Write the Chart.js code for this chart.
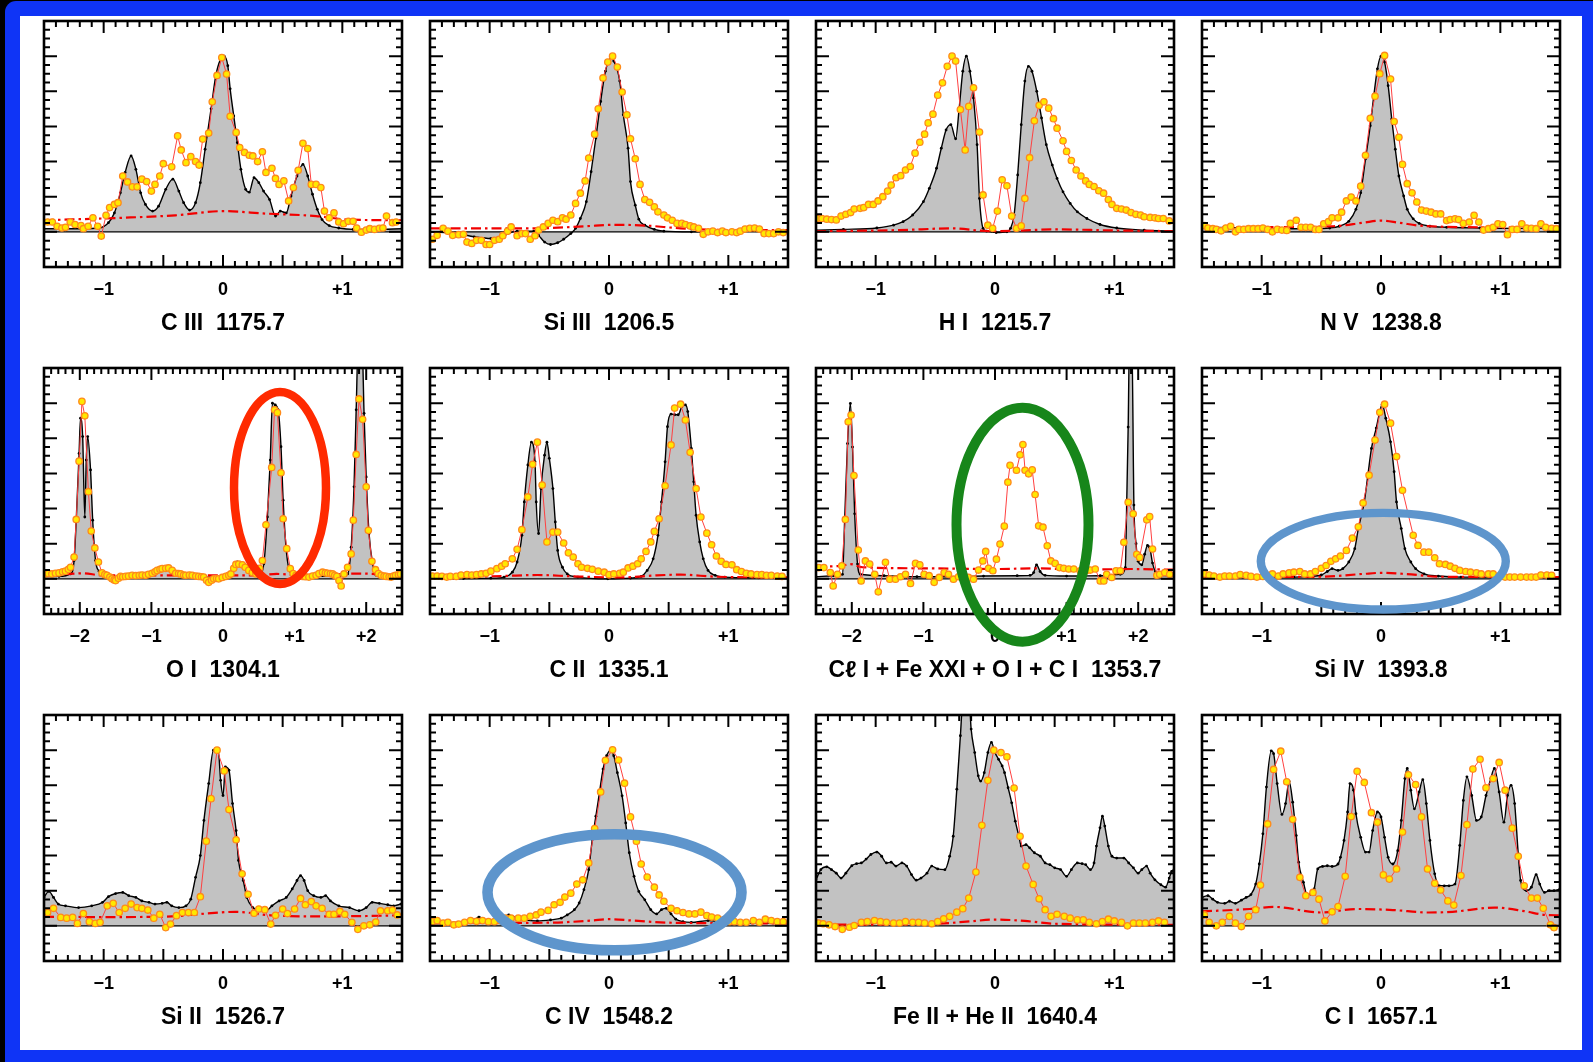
<!DOCTYPE html>
<html><head><meta charset="utf-8">
<script src="https://cdn.jsdelivr.net/npm/chart.js@4.4.1/dist/chart.umd.min.js"></script>
<style>
html,body{margin:0;padding:0;background:#000;width:1593px;height:1062px;overflow:hidden;}
#blue{position:absolute;left:5px;top:1px;width:1588px;height:1061px;background:#0f34f6;border-top-left-radius:11px;}
#white{position:absolute;left:20px;top:16px;width:1562px;height:1034px;background:#fff;}
canvas.panel{position:absolute;}
#marks{position:absolute;left:0;top:0;pointer-events:none;}
</style></head><body>
<div id="blue"></div><div id="white"></div>
<div id="charts"></div>
<svg id="marks" width="1593" height="1062">
  <ellipse cx="280" cy="488" rx="46" ry="96" fill="none" stroke="#ff2a00" stroke-width="8.5"/>
  <ellipse cx="1022.5" cy="524.7" rx="66" ry="117" fill="none" stroke="#17861a" stroke-width="10"/>
  <ellipse cx="1383.3" cy="561.2" rx="122.5" ry="48.3" fill="none" stroke="#5e95cc" stroke-width="8.4"/>
  <ellipse cx="614.5" cy="892.3" rx="127" ry="58" fill="none" stroke="#5e95cc" stroke-width="10.6"/>
</svg>
<script>
// ---------- axis definitions ----------
const RANGE_A = [-1.5, 1.5];
const RANGE_B = [-2.5, 2.5];
const Y_RANGE = [-1, 6];
const TICKS_A = [-1, 0, 1];
const LABELS_A = ['\u22121', '0', '+1'];
const TICKS_B = [-2, -1, 0, 1, 2];
const LABELS_B = ['\u22122', '\u22121', '0', '+1', '+2'];
const TITLES = ['C III  1175.7', 'Si III  1206.5', 'H I  1215.7', 'N V  1238.8',
  'O I  1304.1', 'C II  1335.1', 'C\u2113 I + Fe XXI + O I + C I  1353.7', 'Si IV  1393.8',
  'Si II  1526.7', 'C IV  1548.2', 'Fe II + He II  1640.4', 'C I  1657.1'];

// ---------- data: [x, y] pairs ----------
const CIII_gray = [[-1.50,0.09],[-1.18,0.09],[-1.04,0.11],[-0.96,0.26],[-0.91,0.54],[-0.86,1.11],[-0.82,1.69],[-0.77,2.16],[-0.73,1.78],[-0.69,1.11],[-0.65,0.78],[-0.59,0.59],[-0.54,0.73],[-0.48,1.21],[-0.42,1.50],[-0.37,1.16],[-0.33,0.83],[-0.28,0.62],[-0.23,0.83],[-0.19,1.40],[-0.15,2.35],[-0.10,3.50],[-0.06,4.45],[-0.02,4.92],[0.01,5.00],[0.04,4.73],[0.06,4.07],[0.09,3.30],[0.12,2.54],[0.15,1.78],[0.19,1.21],[0.22,1.13],[0.26,1.54],[0.30,1.40],[0.34,1.16],[0.39,0.92],[0.44,0.45],[0.48,0.59],[0.53,0.54],[0.57,1.02],[0.62,1.59],[0.67,1.92],[0.71,1.59],[0.75,1.07],[0.79,0.64],[0.83,0.35],[0.89,0.18],[0.97,0.11],[1.09,0.07],[1.28,0.07],[1.50,0.09]];
const CIII_orange = [[-1.47,0.28],[-1.43,0.28],[-1.39,0.16],[-1.35,0.11],[-1.32,0.13],[-1.28,0.28],[-1.24,0.21],[-1.19,0.18],[-1.17,0.09],[-1.13,0.16],[-1.09,0.40],[-1.05,0.16],[-1.02,-0.12],[-0.98,0.47],[-0.95,0.69],[-0.91,0.78],[-0.88,0.83],[-0.84,1.59],[-0.80,1.42],[-0.76,1.28],[-0.72,1.28],[-0.68,1.50],[-0.64,1.43],[-0.60,1.16],[-0.57,1.35],[-0.53,1.59],[-0.50,1.94],[-0.43,1.85],[-0.38,2.73],[-0.35,2.33],[-0.31,1.97],[-0.27,2.14],[-0.23,2.00],[-0.20,1.90],[-0.17,2.64],[-0.12,2.81],[-0.09,3.70],[-0.05,4.45],[-0.01,4.96],[0.03,4.49],[0.06,3.29],[0.11,2.83],[0.14,2.40],[0.18,2.26],[0.22,2.18],[0.25,2.16],[0.29,2.00],[0.33,2.28],[0.36,1.69],[0.41,1.81],[0.44,1.52],[0.47,1.35],[0.51,1.45],[0.55,0.88],[0.59,1.26],[0.63,1.75],[0.67,2.52],[0.71,2.37],[0.74,1.35],[0.78,1.35],[0.82,1.26],[0.85,0.59],[0.89,0.40],[0.93,0.54],[0.97,0.28],[1.01,0.23],[1.05,0.30],[1.09,0.30],[1.12,0.11],[1.16,-0.01],[1.20,0.05],[1.23,0.09],[1.27,0.07],[1.31,0.10],[1.34,0.11],[1.37,0.45],[1.42,0.26],[1.45,0.28]];
const CIII_base = [[-1.50,0.33],[-0.85,0.40],[-0.40,0.47],[0.00,0.59],[0.36,0.52],[0.78,0.45],[1.05,0.35],[1.50,0.33]];

const SiIII_gray = [[-1.50,0.00],[-1.27,-0.05],[-1.13,-0.14],[-0.99,-0.19],[-0.88,-0.10],[-0.77,0.02],[-0.63,0.02],[-0.59,-0.10],[-0.54,-0.29],[-0.49,-0.36],[-0.43,-0.31],[-0.38,-0.21],[-0.32,-0.05],[-0.28,0.10],[-0.24,0.38],[-0.19,0.86],[-0.15,1.71],[-0.11,2.67],[-0.07,3.71],[-0.03,4.57],[0.02,4.97],[0.04,4.86],[0.09,4.29],[0.12,3.33],[0.16,2.38],[0.18,1.43],[0.22,0.76],[0.25,0.36],[0.30,0.19],[0.38,0.07],[0.46,0.02],[0.69,0.00],[0.97,0.02],[1.50,0.00]];
const SiIII_orange = [[-1.48,-0.21],[-1.44,-0.10],[-1.39,0.10],[-1.35,0.02],[-1.31,-0.10],[-1.26,-0.08],[-1.22,-0.07],[-1.19,-0.29],[-1.15,-0.33],[-1.11,-0.24],[-1.07,-0.24],[-1.03,-0.36],[-1.00,-0.36],[-0.96,-0.24],[-0.92,-0.21],[-0.89,-0.11],[-0.85,0.02],[-0.82,0.14],[-0.77,-0.11],[-0.73,-0.05],[-0.70,-0.05],[-0.66,-0.21],[-0.62,-0.11],[-0.59,0.05],[-0.55,0.14],[-0.51,0.24],[-0.47,0.33],[-0.43,0.29],[-0.39,0.40],[-0.36,0.36],[-0.32,0.48],[-0.28,0.81],[-0.24,1.10],[-0.20,1.45],[-0.17,2.10],[-0.12,2.78],[-0.09,3.50],[-0.05,4.38],[-0.01,4.83],[0.03,5.00],[0.07,4.69],[0.11,3.98],[0.15,3.33],[0.18,2.65],[0.22,2.08],[0.26,1.35],[0.30,0.92],[0.34,0.84],[0.38,0.71],[0.41,0.57],[0.46,0.48],[0.49,0.40],[0.53,0.33],[0.57,0.24],[0.61,0.24],[0.64,0.21],[0.68,0.17],[0.71,0.14],[0.75,0.10],[0.79,-0.07],[0.83,0.00],[0.87,0.02],[0.91,-0.02],[0.95,0.02],[0.98,-0.02],[1.03,0.00],[1.07,-0.02],[1.10,0.02],[1.14,0.08],[1.18,0.10],[1.22,0.11],[1.26,0.08],[1.30,-0.05],[1.34,-0.05],[1.38,-0.05],[1.42,0.00],[1.46,-0.02]];
const SiIII_base = [[-1.50,0.10],[-0.60,0.10],[-0.20,0.16],[0.05,0.20],[0.30,0.18],[0.60,0.10],[1.00,0.05],[1.50,0.05]];

const HI_gray = [[-1.50,0.05],[-1.27,0.07],[-0.99,0.11],[-0.85,0.19],[-0.77,0.29],[-0.69,0.48],[-0.60,0.86],[-0.55,1.24],[-0.49,1.81],[-0.45,2.38],[-0.41,2.90],[-0.37,3.05],[-0.33,2.65],[-0.30,3.52],[-0.27,4.57],[-0.24,5.00],[-0.21,4.57],[-0.18,3.81],[-0.15,2.48],[-0.13,0.95],[-0.10,0.10],[-0.07,0.02],[0.01,-0.02],[0.10,0.00],[0.13,0.10],[0.16,0.48],[0.19,1.62],[0.22,3.05],[0.25,4.29],[0.28,4.71],[0.31,4.57],[0.35,4.00],[0.39,3.24],[0.43,2.48],[0.48,1.90],[0.52,1.52],[0.57,1.14],[0.63,0.81],[0.69,0.57],[0.77,0.38],[0.88,0.21],[1.02,0.11],[1.25,0.05],[1.50,0.02]];
const HI_orange = [[-1.49,0.38],[-1.45,0.38],[-1.41,0.36],[-1.37,0.35],[-1.33,0.34],[-1.29,0.45],[-1.25,0.50],[-1.21,0.55],[-1.18,0.65],[-1.13,0.67],[-1.10,0.69],[-1.06,0.78],[-1.02,0.78],[-0.98,0.88],[-0.94,1.00],[-0.90,1.16],[-0.87,1.33],[-0.83,1.54],[-0.79,1.60],[-0.75,1.76],[-0.71,1.86],[-0.67,2.24],[-0.63,2.55],[-0.59,2.78],[-0.56,3.10],[-0.52,3.35],[-0.48,3.89],[-0.44,4.24],[-0.40,4.71],[-0.36,5.00],[-0.33,4.86],[-0.29,3.48],[-0.25,2.33],[-0.22,3.57],[-0.18,4.10],[-0.13,2.84],[-0.10,1.05],[-0.06,0.19],[-0.02,0.10],[0.02,0.59],[0.06,1.48],[0.10,1.31],[0.14,0.45],[0.18,0.10],[0.22,0.17],[0.25,0.95],[0.29,2.11],[0.33,3.16],[0.37,3.60],[0.41,3.70],[0.45,3.52],[0.49,3.22],[0.52,2.95],[0.57,2.59],[0.60,2.29],[0.64,2.03],[0.68,1.76],[0.72,1.59],[0.76,1.45],[0.79,1.35],[0.83,1.29],[0.87,1.17],[0.91,1.10],[0.95,0.92],[0.98,0.78],[1.02,0.67],[1.06,0.65],[1.10,0.62],[1.14,0.55],[1.18,0.50],[1.22,0.48],[1.25,0.43],[1.30,0.41],[1.34,0.40],[1.37,0.38],[1.41,0.38],[1.46,0.31]];
const HI_base = [[-1.50,0.02],[-0.80,0.05],[-0.35,0.10],[-0.05,0.02],[0.15,0.03],[0.50,0.07],[1.00,0.04],[1.50,0.02]];

const NV_gray = [[-1.50,0.13],[-1.13,0.11],[-0.85,0.09],[-0.57,0.09],[-0.43,0.11],[-0.35,0.16],[-0.27,0.30],[-0.21,0.64],[-0.17,1.11],[-0.13,2.07],[-0.09,3.02],[-0.06,3.88],[-0.03,4.64],[0.00,5.00],[0.03,4.83],[0.06,4.16],[0.09,3.21],[0.12,2.35],[0.15,1.59],[0.19,1.02],[0.22,0.64],[0.27,0.37],[0.32,0.24],[0.41,0.16],[0.55,0.13],[0.83,0.11],[1.10,0.10],[1.50,0.11]];
const NV_orange = [[-1.48,0.18],[-1.45,0.11],[-1.41,0.09],[-1.38,0.07],[-1.34,0.03],[-1.30,0.11],[-1.26,0.16],[-1.22,0.00],[-1.19,0.07],[-1.15,0.07],[-1.11,0.09],[-1.07,0.09],[-1.03,0.09],[-0.99,0.11],[-0.95,0.07],[-0.91,0.00],[-0.87,0.07],[-0.83,0.05],[-0.79,0.04],[-0.76,0.24],[-0.71,0.33],[-0.67,0.13],[-0.63,0.13],[-0.59,0.13],[-0.55,0.07],[-0.52,0.07],[-0.48,0.23],[-0.44,0.29],[-0.41,0.40],[-0.36,0.40],[-0.33,0.56],[-0.29,0.88],[-0.25,0.99],[-0.21,0.88],[-0.17,1.30],[-0.13,2.18],[-0.09,3.23],[-0.05,3.86],[-0.01,4.50],[0.03,5.02],[0.08,4.35],[0.11,3.14],[0.15,2.69],[0.18,1.92],[0.22,1.37],[0.26,1.11],[0.30,0.85],[0.34,0.62],[0.38,0.59],[0.42,0.56],[0.46,0.51],[0.50,0.51],[0.55,0.32],[0.58,0.35],[0.62,0.37],[0.65,0.35],[0.69,0.24],[0.74,0.28],[0.78,0.47],[0.82,0.28],[0.86,0.05],[0.90,0.09],[0.94,0.13],[0.98,0.23],[1.02,0.21],[1.06,-0.08],[1.10,0.07],[1.14,0.07],[1.18,0.23],[1.22,0.11],[1.26,0.10],[1.30,0.09],[1.34,0.23],[1.38,0.13],[1.43,0.10],[1.47,0.09]];
const NV_base = [[-1.50,0.13],[-0.40,0.16],[-0.15,0.26],[0.00,0.32],[0.15,0.26],[0.35,0.17],[1.00,0.13],[1.50,0.13]];

const OI_gray = [[-2.50,0.07],[-2.29,0.07],[-2.13,0.14],[-2.08,0.52],[-2.05,1.67],[-2.01,3.57],[-1.99,4.57],[-1.96,4.05],[-1.93,1.76],[-1.91,3.38],[-1.89,4.05],[-1.85,3.10],[-1.82,1.67],[-1.78,0.52],[-1.73,0.22],[-1.64,0.07],[-1.36,0.07],[-1.08,0.10],[-0.90,0.24],[-0.76,0.29],[-0.62,0.14],[-0.34,0.05],[-0.06,0.05],[0.13,0.24],[0.20,0.48],[0.29,0.43],[0.39,0.14],[0.50,0.10],[0.57,0.43],[0.62,1.76],[0.66,3.38],[0.69,5.00],[0.73,4.95],[0.77,4.81],[0.81,3.76],[0.84,2.24],[0.88,0.90],[0.92,0.29],[0.99,0.10],[1.30,0.07],[1.58,0.07],[1.74,0.14],[1.79,0.90],[1.83,2.62],[1.86,4.81],[1.89,6.80],[1.94,6.80],[1.97,4.71],[2.00,2.90],[2.04,1.29],[2.09,0.43],[2.14,0.10],[2.32,0.07],[2.50,0.10]];
const OI_orange = [[-2.48,0.14],[-2.44,0.15],[-2.39,0.14],[-2.34,0.16],[-2.29,0.17],[-2.24,0.20],[-2.20,0.22],[-2.16,0.27],[-2.13,0.33],[-2.08,0.62],[-2.05,1.69],[-2.01,3.35],[-1.97,5.05],[-1.93,4.64],[-1.88,2.48],[-1.84,1.36],[-1.79,0.88],[-1.74,0.48],[-1.69,0.17],[-1.65,0.12],[-1.62,0.10],[-1.58,0.05],[-1.55,0.00],[-1.52,-0.03],[-1.50,-0.05],[-1.46,0.02],[-1.43,0.07],[-1.40,0.06],[-1.36,0.07],[-1.32,0.08],[-1.27,0.10],[-1.22,0.09],[-1.17,0.10],[-1.13,0.11],[-1.08,0.10],[-1.04,0.13],[-0.99,0.16],[-0.95,0.20],[-0.92,0.24],[-0.88,0.27],[-0.85,0.29],[-0.80,0.30],[-0.76,0.31],[-0.71,0.24],[-0.66,0.16],[-0.62,0.15],[-0.59,0.14],[-0.55,0.11],[-0.52,0.10],[-0.47,0.11],[-0.43,0.10],[-0.38,0.08],[-0.34,0.07],[-0.30,0.06],[-0.27,0.05],[-0.23,-0.04],[-0.20,-0.10],[-0.16,-0.04],[-0.13,0.00],[-0.09,0.01],[-0.06,0.00],[-0.01,0.04],[0.04,0.07],[0.08,0.10],[0.11,0.14],[0.15,0.30],[0.18,0.41],[0.22,0.42],[0.27,0.40],[0.31,0.33],[0.36,0.24],[0.41,0.18],[0.46,0.14],[0.51,0.30],[0.55,0.52],[0.60,1.54],[0.68,3.17],[0.72,4.81],[0.76,4.73],[0.81,3.02],[0.84,1.71],[0.89,0.86],[0.94,0.29],[0.98,0.15],[1.02,0.10],[1.06,0.08],[1.11,0.07],[1.15,0.06],[1.20,0.05],[1.25,0.08],[1.30,0.10],[1.34,0.15],[1.39,0.19],[1.43,0.17],[1.46,0.16],[1.50,0.15],[1.53,0.14],[1.56,0.10],[1.59,0.07],[1.62,-0.05],[1.65,-0.20],[1.69,0.14],[1.74,0.33],[1.79,0.71],[1.82,1.67],[1.86,3.54],[1.90,5.12],[1.95,4.54],[2.00,2.62],[2.03,1.38],[2.08,0.50],[2.13,0.26],[2.17,0.15],[2.21,0.10],[2.25,0.08],[2.28,0.07],[2.32,0.06],[2.35,0.05],[2.38,0.08],[2.41,0.10],[2.45,0.12],[2.48,0.14]];
const OI_base = [[-2.50,0.10],[-2.05,0.15],[-1.95,0.16],[-1.70,0.10],[-0.50,0.10],[0.50,0.10],[0.75,0.14],[1.10,0.10],[1.90,0.15],[2.50,0.10]];

const CII_gray = [[-1.50,0.00],[-1.22,0.01],[-0.99,0.02],[-0.88,0.05],[-0.81,0.19],[-0.77,0.48],[-0.73,1.24],[-0.71,2.19],[-0.68,3.24],[-0.65,3.89],[-0.62,3.33],[-0.61,2.19],[-0.59,1.29],[-0.57,2.57],[-0.54,3.52],[-0.52,3.89],[-0.50,3.43],[-0.47,2.57],[-0.45,1.62],[-0.43,0.81],[-0.39,0.33],[-0.35,0.14],[-0.26,0.05],[-0.01,0.00],[0.18,0.02],[0.27,0.07],[0.32,0.24],[0.37,0.57],[0.41,1.24],[0.44,2.19],[0.47,3.33],[0.49,4.33],[0.52,4.69],[0.55,4.67],[0.58,4.67],[0.61,4.90],[0.64,4.95],[0.66,4.76],[0.69,3.71],[0.71,2.76],[0.73,1.81],[0.76,1.05],[0.79,0.57],[0.83,0.24],[0.89,0.10],[0.97,0.05],[1.25,0.03],[1.50,0.02]];
const CII_orange = [[-1.48,0.08],[-1.44,0.08],[-1.40,0.07],[-1.36,0.05],[-1.33,0.07],[-1.28,0.07],[-1.24,0.11],[-1.19,0.12],[-1.15,0.11],[-1.11,0.12],[-1.07,0.14],[-1.03,0.16],[-0.99,0.22],[-0.94,0.29],[-0.90,0.36],[-0.87,0.43],[-0.81,0.57],[-0.77,0.84],[-0.73,1.40],[-0.68,2.33],[-0.64,3.26],[-0.60,3.89],[-0.56,2.67],[-0.52,1.05],[-0.47,1.33],[-0.43,1.33],[-0.38,1.02],[-0.34,0.74],[-0.30,0.62],[-0.26,0.43],[-0.23,0.33],[-0.18,0.30],[-0.14,0.27],[-0.09,0.22],[-0.04,0.19],[0.00,0.12],[0.04,0.14],[0.09,0.16],[0.12,0.19],[0.16,0.31],[0.20,0.36],[0.24,0.43],[0.27,0.57],[0.31,0.78],[0.35,1.05],[0.38,1.35],[0.42,1.71],[0.47,2.65],[0.52,3.81],[0.55,4.86],[0.60,4.97],[0.64,4.52],[0.68,3.60],[0.73,2.57],[0.77,1.76],[0.82,1.30],[0.86,0.97],[0.90,0.65],[0.94,0.50],[0.98,0.41],[1.03,0.40],[1.07,0.26],[1.11,0.21],[1.15,0.16],[1.19,0.14],[1.24,0.12],[1.28,0.12],[1.32,0.10],[1.36,0.10],[1.41,0.08],[1.45,0.07]];
const CII_base = [[-1.50,0.05],[-0.90,0.08],[-0.60,0.11],[-0.30,0.07],[0.10,0.04],[0.40,0.10],[0.60,0.12],[0.90,0.06],[1.50,0.04]];

const ClI_gray = [[-2.50,0.06],[-2.25,0.09],[-2.13,0.13],[-2.10,1.66],[-2.06,3.85],[-2.02,4.99],[-1.99,3.75],[-1.96,1.85],[-1.92,0.42],[-1.88,0.13],[-1.55,0.09],[-1.09,0.06],[-0.62,0.06],[-0.16,0.08],[0.31,0.09],[0.49,0.10],[0.54,0.18],[0.58,0.40],[0.63,0.21],[0.70,0.10],[1.00,0.08],[1.47,0.09],[1.75,0.13],[1.82,0.32],[1.84,2.23],[1.86,4.32],[1.88,7.00],[1.91,7.00],[1.94,2.10],[1.97,1.00],[2.00,0.50],[2.05,0.40],[2.09,0.70],[2.13,0.95],[2.16,0.90],[2.20,0.45],[2.24,0.20],[2.30,0.10],[2.50,0.09]];
const ClI_orange = [[-2.46,0.32],[-2.39,0.32],[-2.30,0.18],[-2.26,-0.20],[-2.20,0.13],[-2.14,0.37],[-2.09,1.69],[-2.05,4.47],[-2.01,4.66],[-1.97,2.94],[-1.91,0.82],[-1.87,-0.06],[-1.81,0.51],[-1.75,0.42],[-1.68,0.13],[-1.63,-0.37],[-1.53,0.47],[-1.47,-0.01],[-1.39,-0.01],[-1.32,0.06],[-1.25,0.13],[-1.18,-0.13],[-1.11,0.44],[-1.05,0.40],[-0.99,0.13],[-0.92,0.09],[-0.85,-0.10],[-0.78,0.04],[-0.71,0.18],[-0.65,0.13],[-0.58,-0.01],[-0.51,0.06],[-0.44,0.13],[-0.37,0.04],[-0.30,-0.01],[-0.23,0.25],[-0.17,0.51],[-0.13,0.78],[-0.09,0.30],[-0.03,0.23],[0.02,0.56],[0.07,0.99],[0.13,1.50],[0.18,2.75],[0.21,3.23],[0.30,3.09],[0.35,3.53],[0.39,3.82],[0.42,3.09],[0.47,2.99],[0.52,3.10],[0.56,2.40],[0.61,1.51],[0.67,1.47],[0.73,0.94],[0.78,0.51],[0.84,0.44],[0.90,0.32],[0.96,0.30],[1.03,0.28],[1.10,0.28],[1.19,0.23],[1.27,0.23],[1.33,0.25],[1.40,0.28],[1.47,-0.06],[1.52,-0.06],[1.56,0.13],[1.63,0.04],[1.69,0.23],[1.75,0.23],[1.80,1.04],[1.86,2.18],[1.93,1.85],[1.98,0.70],[2.02,0.61],[2.12,1.68],[2.16,1.77],[2.20,0.85],[2.26,0.10],[2.30,0.13],[2.37,0.18],[2.44,0.13]];
const ClI_base = [[-2.50,0.35],[-2.15,0.37],[-2.02,0.42],[-1.85,0.33],[-1.00,0.30],[0.00,0.28],[0.60,0.30],[1.20,0.26],[1.90,0.28],[2.50,0.26]];

const SiIV_gray = [[-1.50,0.05],[-1.15,0.05],[-0.73,0.05],[-0.59,0.07],[-0.50,0.11],[-0.45,0.21],[-0.41,0.29],[-0.36,0.24],[-0.32,0.29],[-0.27,0.48],[-0.22,0.86],[-0.19,1.43],[-0.14,2.19],[-0.11,2.95],[-0.08,3.71],[-0.04,4.29],[-0.01,4.76],[0.01,4.97],[0.04,4.57],[0.08,3.90],[0.11,3.05],[0.13,2.19],[0.17,1.43],[0.20,0.86],[0.25,0.48],[0.29,0.29],[0.36,0.14],[0.48,0.08],[0.67,0.05],[1.09,0.05],[1.50,0.05]];
const SiIV_orange = [[-1.48,0.14],[-1.44,0.11],[-1.40,0.08],[-1.35,0.05],[-1.31,0.08],[-1.27,0.08],[-1.22,0.08],[-1.18,0.12],[-1.13,0.10],[-1.09,0.07],[-1.04,0.05],[-0.99,0.07],[-0.95,0.10],[-0.91,0.14],[-0.86,0.08],[-0.82,0.14],[-0.77,0.17],[-0.73,0.19],[-0.68,0.21],[-0.64,0.14],[-0.59,0.14],[-0.55,0.21],[-0.50,0.30],[-0.46,0.38],[-0.42,0.50],[-0.38,0.57],[-0.34,0.65],[-0.29,0.81],[-0.24,1.16],[-0.19,1.48],[-0.15,2.16],[-0.10,2.95],[-0.05,3.95],[-0.01,4.74],[0.03,4.97],[0.08,4.43],[0.13,3.48],[0.18,2.52],[0.27,1.24],[0.31,0.95],[0.36,0.76],[0.40,0.76],[0.45,0.60],[0.49,0.43],[0.54,0.41],[0.58,0.36],[0.62,0.30],[0.66,0.24],[0.71,0.21],[0.75,0.19],[0.80,0.17],[0.84,0.14],[0.90,0.14],[0.94,0.14],[0.99,0.08],[1.04,0.05],[1.08,0.05],[1.12,0.05],[1.17,0.05],[1.22,0.05],[1.26,0.05],[1.30,0.05],[1.34,0.11],[1.39,0.11],[1.43,0.10]];
const SiIV_base = [[-1.50,0.05],[-0.50,0.06],[-0.15,0.14],[0.00,0.17],[0.20,0.14],[0.50,0.06],[1.50,0.05]];

const SiII_gray = [[-1.50,0.81],[-1.46,0.98],[-1.42,0.81],[-1.38,0.62],[-1.32,0.57],[-1.21,0.52],[-1.10,0.57],[-1.01,0.67],[-0.96,0.83],[-0.90,0.92],[-0.84,0.95],[-0.79,0.86],[-0.73,0.81],[-0.68,0.71],[-0.62,0.67],[-0.57,0.62],[-0.51,0.64],[-0.47,0.67],[-0.43,0.57],[-0.37,0.52],[-0.31,0.57],[-0.27,0.76],[-0.23,1.38],[-0.19,2.00],[-0.16,3.00],[-0.12,4.05],[-0.08,5.00],[-0.04,5.00],[-0.02,4.14],[0.00,3.71],[0.02,4.52],[0.05,4.43],[0.08,3.48],[0.11,2.71],[0.13,1.86],[0.17,1.29],[0.20,0.81],[0.25,0.52],[0.30,0.43],[0.36,0.43],[0.41,0.57],[0.47,0.71],[0.53,0.81],[0.58,1.05],[0.62,1.29],[0.65,1.43],[0.68,1.29],[0.71,1.00],[0.76,0.86],[0.82,0.81],[0.86,0.86],[0.90,0.71],[0.97,0.57],[1.06,0.52],[1.14,0.43],[1.20,0.52],[1.25,0.67],[1.31,0.64],[1.38,0.60],[1.43,0.57],[1.49,0.62]];
const SiII_orange = [[-1.47,0.38],[-1.42,0.50],[-1.36,0.24],[-1.31,0.22],[-1.26,0.24],[-1.22,0.07],[-1.17,0.35],[-1.12,0.12],[-1.07,0.07],[-1.03,0.10],[-0.97,0.57],[-0.92,0.64],[-0.87,0.38],[-0.82,0.50],[-0.77,0.62],[-0.72,0.52],[-0.68,0.50],[-0.63,0.45],[-0.58,0.22],[-0.53,0.33],[-0.48,-0.05],[-0.44,0.05],[-0.39,0.29],[-0.34,0.38],[-0.29,0.38],[-0.24,0.38],[-0.19,0.83],[-0.14,2.41],[-0.10,3.62],[-0.05,5.00],[0.01,4.41],[0.05,3.31],[0.11,2.45],[0.16,1.48],[0.21,0.90],[0.26,0.36],[0.30,0.48],[0.35,0.46],[0.40,0.05],[0.44,0.30],[0.50,0.48],[0.54,0.35],[0.60,0.48],[0.65,0.78],[0.69,0.60],[0.74,0.69],[0.78,0.57],[0.83,0.50],[0.89,0.33],[0.93,0.33],[0.98,0.41],[1.02,0.33],[1.08,0.10],[1.13,-0.10],[1.18,0.00],[1.23,0.03],[1.28,0.11],[1.32,0.43],[1.38,0.43],[1.42,0.45],[1.46,0.31]];
const SiII_base = [[-1.50,0.26],[-1.00,0.25],[-0.50,0.26],[-0.10,0.36],[0.10,0.40],[0.40,0.30],[0.80,0.27],[1.20,0.28],[1.50,0.30]];

const CIV_gray = [[-1.50,0.10],[-1.27,0.10],[-1.13,0.17],[-1.09,0.25],[-1.05,0.19],[-0.99,0.15],[-0.91,0.22],[-0.84,0.31],[-0.80,0.25],[-0.71,0.17],[-0.60,0.14],[-0.49,0.17],[-0.40,0.22],[-0.35,0.31],[-0.29,0.46],[-0.25,0.65],[-0.21,1.03],[-0.17,1.60],[-0.14,2.46],[-0.11,3.12],[-0.08,3.79],[-0.05,4.46],[-0.02,4.84],[0.01,4.98],[0.04,4.84],[0.07,4.36],[0.11,3.70],[0.14,2.93],[0.17,2.08],[0.21,1.41],[0.25,0.98],[0.30,0.74],[0.35,0.46],[0.40,0.34],[0.44,0.46],[0.48,0.50],[0.52,0.34],[0.56,0.19],[0.62,0.12],[0.69,0.10],[0.83,0.15],[0.97,0.10],[1.25,0.08],[1.50,0.08]];
const CIV_orange = [[-1.48,0.12],[-1.44,0.15],[-1.39,0.08],[-1.35,0.10],[-1.30,0.03],[-1.26,0.05],[-1.21,0.10],[-1.16,0.15],[-1.11,0.13],[-1.06,0.15],[-1.01,0.12],[-0.96,0.12],[-0.91,0.15],[-0.87,0.22],[-0.82,0.22],[-0.76,0.22],[-0.71,0.22],[-0.66,0.27],[-0.61,0.31],[-0.57,0.39],[-0.51,0.44],[-0.46,0.60],[-0.41,0.67],[-0.37,0.82],[-0.32,0.93],[-0.27,1.19],[-0.22,1.31],[-0.17,1.79],[-0.12,2.77],[-0.07,3.81],[-0.03,4.71],[0.03,5.01],[0.08,4.72],[0.13,4.06],[0.18,3.10],[0.23,2.41],[0.27,1.76],[0.32,1.39],[0.38,1.10],[0.42,0.88],[0.46,0.70],[0.52,0.50],[0.57,0.43],[0.62,0.38],[0.67,0.34],[0.72,0.34],[0.77,0.39],[0.82,0.29],[0.86,0.25],[0.91,0.22],[0.96,0.17],[1.01,0.12],[1.05,0.12],[1.10,0.10],[1.15,0.10],[1.21,0.15],[1.26,0.10],[1.31,0.19],[1.36,0.15],[1.41,0.12],[1.46,0.12]];
const CIV_base = [[-1.50,0.08],[-0.50,0.09],[-0.15,0.15],[0.00,0.19],[0.20,0.15],[0.50,0.09],[1.50,0.07]];

const FeII_gray = [[-1.50,1.31],[-1.46,1.60],[-1.41,1.68],[-1.37,1.60],[-1.33,1.50],[-1.29,1.36],[-1.25,1.50],[-1.20,1.71],[-1.16,1.77],[-1.12,1.79],[-1.08,1.90],[-1.04,2.03],[-0.99,2.10],[-0.95,1.98],[-0.91,1.79],[-0.87,1.81],[-0.83,1.70],[-0.78,1.79],[-0.74,1.70],[-0.70,1.46],[-0.66,1.30],[-0.62,1.36],[-0.57,1.50],[-0.53,1.70],[-0.48,1.62],[-0.42,1.60],[-0.38,1.98],[-0.35,2.55],[-0.32,3.89],[-0.29,5.41],[-0.27,6.40],[-0.22,6.60],[-0.20,5.60],[-0.17,4.93],[-0.14,4.27],[-0.12,4.12],[-0.09,4.36],[-0.06,4.93],[-0.03,5.22],[0.00,4.93],[0.03,4.74],[0.06,4.55],[0.08,4.36],[0.11,3.93],[0.14,3.50],[0.17,2.98],[0.20,2.55],[0.22,2.27],[0.26,2.31],[0.29,2.22],[0.33,2.08],[0.38,1.98],[0.42,1.79],[0.46,1.74],[0.50,1.65],[0.55,1.60],[0.60,1.41],[0.64,1.60],[0.69,1.79],[0.73,1.77],[0.76,1.74],[0.80,1.60],[0.83,1.79],[0.85,2.27],[0.88,2.79],[0.90,3.12],[0.92,2.84],[0.95,2.27],[0.98,1.98],[1.02,1.93],[1.08,1.93],[1.12,1.79],[1.16,1.65],[1.20,1.50],[1.23,1.60],[1.27,1.70],[1.30,1.50],[1.34,1.31],[1.39,1.17],[1.43,1.10],[1.46,1.36],[1.48,1.55],[1.50,1.60]];
const FeII_orange = [[-1.48,0.08],[-1.44,0.06],[-1.39,0.03],[-1.34,-0.02],[-1.28,-0.10],[-1.22,-0.04],[-1.18,0.01],[-1.12,0.10],[-1.07,0.12],[-1.01,0.15],[-0.96,0.12],[-0.91,0.10],[-0.85,0.08],[-0.80,0.08],[-0.75,0.12],[-0.69,0.10],[-0.64,0.10],[-0.59,0.08],[-0.53,0.06],[-0.48,0.12],[-0.43,0.20],[-0.38,0.27],[-0.32,0.39],[-0.27,0.49],[-0.22,0.79],[-0.16,1.53],[-0.11,2.86],[-0.06,4.14],[-0.01,5.00],[0.05,4.93],[0.10,4.81],[0.16,3.92],[0.21,2.55],[0.26,1.70],[0.32,1.18],[0.37,0.77],[0.42,0.46],[0.47,0.27],[0.52,0.33],[0.58,0.27],[0.63,0.22],[0.69,0.17],[0.74,0.17],[0.79,0.10],[0.85,0.06],[0.90,0.12],[0.95,0.19],[1.00,0.14],[1.06,0.10],[1.11,0.00],[1.16,0.08],[1.21,0.08],[1.26,0.08],[1.32,0.10],[1.37,0.14],[1.42,0.10]];
const FeII_base = [[-1.50,0.03],[-0.50,0.06],[-0.20,0.13],[0.00,0.18],[0.25,0.14],[0.50,0.06],[1.50,0.03]];

const CI_gray = [[-1.50,0.81],[-1.45,0.86],[-1.41,0.76],[-1.37,0.67],[-1.31,0.64],[-1.27,0.70],[-1.22,0.64],[-1.17,0.73],[-1.13,0.81],[-1.09,0.89],[-1.05,1.19],[-1.02,1.76],[-0.99,2.62],[-0.96,3.95],[-0.92,4.98],[-0.90,4.90],[-0.87,4.05],[-0.83,3.17],[-0.80,3.48],[-0.77,4.11],[-0.74,3.52],[-0.71,2.57],[-0.69,1.81],[-0.65,1.24],[-0.62,0.90],[-0.59,0.90],[-0.56,1.05],[-0.53,1.62],[-0.49,1.69],[-0.45,1.71],[-0.41,1.69],[-0.36,1.76],[-0.34,1.95],[-0.31,2.43],[-0.28,3.24],[-0.26,4.05],[-0.23,3.86],[-0.21,3.19],[-0.17,2.52],[-0.13,2.10],[-0.10,2.10],[-0.07,2.71],[-0.03,3.24],[0.00,3.10],[0.03,2.52],[0.06,1.95],[0.10,1.76],[0.14,2.14],[0.17,3.00],[0.20,4.19],[0.22,4.48],[0.25,3.86],[0.28,3.33],[0.32,3.81],[0.35,4.16],[0.38,3.48],[0.41,2.43],[0.45,1.48],[0.49,1.14],[0.53,1.14],[0.57,1.14],[0.62,1.19],[0.66,2.29],[0.69,3.57],[0.72,4.24],[0.76,3.71],[0.80,3.00],[0.84,3.10],[0.88,3.71],[0.92,4.19],[0.95,4.48],[0.99,3.81],[1.03,2.95],[1.06,3.71],[1.09,4.00],[1.12,3.48],[1.15,2.05],[1.17,1.29],[1.22,1.00],[1.26,1.10],[1.30,1.46],[1.33,1.19],[1.37,0.95],[1.41,1.00],[1.45,1.00],[1.50,1.05]];
const CI_orange = [[-1.48,0.31],[-1.44,0.10],[-1.38,0.00],[-1.33,0.10],[-1.27,0.27],[-1.22,0.08],[-1.17,-0.02],[-1.11,0.27],[-1.05,0.46],[-1.01,1.16],[-0.95,2.90],[-0.90,4.45],[-0.84,4.97],[-0.79,4.10],[-0.74,3.03],[-0.68,1.38],[-0.63,0.86],[-0.57,0.95],[-0.52,0.76],[-0.47,0.14],[-0.41,0.40],[-0.36,0.55],[-0.30,1.41],[-0.25,3.11],[-0.20,4.40],[-0.14,4.08],[-0.08,3.22],[-0.03,2.95],[0.02,1.45],[0.07,1.33],[0.13,1.62],[0.18,2.67],[0.23,4.30],[0.29,4.02],[0.34,3.10],[0.39,1.62],[0.45,1.21],[0.50,1.02],[0.56,0.71],[0.61,0.59],[0.67,1.43],[0.72,2.88],[0.77,4.46],[0.83,4.74],[0.88,3.93],[0.94,4.19],[0.99,4.65],[1.04,3.86],[1.10,2.78],[1.15,1.98],[1.20,1.14],[1.26,0.79],[1.31,0.79],[1.36,0.50],[1.42,0.03],[1.45,-0.05]];
const CI_base = [[-1.50,0.41],[-1.10,0.48],[-0.90,0.54],[-0.50,0.38],[-0.20,0.48],[0.10,0.45],[0.40,0.38],[0.60,0.40],[0.95,0.52],[1.20,0.42],[1.38,0.31],[1.50,0.30]];

// ---------- panels (row-major) ----------
const PANELS = [
  {gray: CIII_gray, orange: CIII_orange, base: CIII_base, wide: false},
  {gray: SiIII_gray, orange: SiIII_orange, base: SiIII_base, wide: false},
  {gray: HI_gray, orange: HI_orange, base: HI_base, wide: false},
  {gray: NV_gray, orange: NV_orange, base: NV_base, wide: false},
  {gray: OI_gray, orange: OI_orange, base: OI_base, wide: true},
  {gray: CII_gray, orange: CII_orange, base: CII_base, wide: false},
  {gray: ClI_gray, orange: ClI_orange, base: ClI_base, wide: true},
  {gray: SiIV_gray, orange: SiIV_orange, base: SiIV_base, wide: false},
  {gray: SiII_gray, orange: SiII_orange, base: SiII_base, wide: false},
  {gray: CIV_gray, orange: CIV_orange, base: CIV_base, wide: false},
  {gray: FeII_gray, orange: FeII_orange, base: FeII_base, wide: false},
  {gray: CI_gray, orange: CI_orange, base: CI_base, wide: false}
];

// ---------- layout ----------
const COL_LEFT = [44, 430, 816, 1202];
const ROW_TOP = [21, 368, 715];
const BOX_W = 358, BOX_H = 246;
const PAD_L = 8, PAD_R = 8, PAD_T = 6, AXIS_H = 80;
const FONT = "'Liberation Sans', Arial, Helvetica, sans-serif";

const framePlugin = {
  id: 'frame',
  afterDatasetDraw(chart, args) {
    if (args.index !== 2) return;
    const {ctx, chartArea: a, scales: {y}} = chart;
    const y0 = y.getPixelForValue(0);
    ctx.save();
    ctx.strokeStyle = '#000'; ctx.lineWidth = 1.4;
    ctx.beginPath(); ctx.moveTo(a.left, y0); ctx.lineTo(a.right, y0); ctx.stroke();
    ctx.restore();
  },
  afterDraw(chart, args, o) {
    const {ctx, chartArea: a, scales: {x, y}} = chart;
    ctx.save();
    ctx.strokeStyle = '#000'; ctx.lineWidth = 2;
    ctx.beginPath();
    const n0 = Math.ceil(x.min / o.xMinor - 1e-6), n1 = Math.floor(x.max / o.xMinor + 1e-6);
    for (let n = n0; n <= n1; n++) {
      const v = n * o.xMinor;
      const px = x.getPixelForValue(v);
      if (px <= a.left + 1 || px >= a.right - 1) continue;
      const r = v / o.xMajor;
      const len = Math.abs(r - Math.round(r)) < 1e-6 ? 12 : 6;
      ctx.moveTo(px, a.bottom); ctx.lineTo(px, a.bottom - len);
      ctx.moveTo(px, a.top); ctx.lineTo(px, a.top + len);
    }
    const m0 = Math.ceil(y.min / o.yMinor - 1e-6), m1 = Math.floor(y.max / o.yMinor + 1e-6);
    for (let m = m0; m <= m1; m++) {
      const v = m * o.yMinor;
      const py = y.getPixelForValue(v);
      if (py <= a.top + 1 || py >= a.bottom - 1) continue;
      const r = v / o.yMajor;
      const len = Math.abs(r - Math.round(r)) < 1e-6 ? 13 : 6;
      ctx.moveTo(a.left, py); ctx.lineTo(a.left + len, py);
      ctx.moveTo(a.right, py); ctx.lineTo(a.right - len, py);
    }
    ctx.stroke();
    ctx.lineWidth = 2.6;
    ctx.strokeRect(a.left, a.top, a.right - a.left, a.bottom - a.top);
    ctx.restore();
  }
};

const toXY = pairs => pairs.map(([x, y]) => ({x, y}));
const holder = document.getElementById('charts');

PANELS.forEach((p, i) => {
  const c = i % 4, r = Math.floor(i / 4);
  const cv = document.createElement('canvas');
  cv.className = 'panel';
  cv.width = BOX_W + PAD_L + PAD_R;
  cv.height = PAD_T + BOX_H + AXIS_H;
  cv.style.left = (COL_LEFT[c] - PAD_L) + 'px';
  cv.style.top = (ROW_TOP[r] - PAD_T) + 'px';
  cv.style.width = cv.width + 'px';
  cv.style.height = cv.height + 'px';
  holder.appendChild(cv);
  const range = p.wide ? RANGE_B : RANGE_A;
  const tickVals = p.wide ? TICKS_B : TICKS_A;
  const tickLabels = p.wide ? LABELS_B : LABELS_A;
  new Chart(cv, {
    type: 'line',
    data: {datasets: [
      {data: toXY(p.orange), borderColor: '#ff4040', borderWidth: 1, tension: 0,
       pointRadius: 3.2, pointBackgroundColor: '#ffe800', pointBorderColor: '#ff8a1a', pointBorderWidth: 1.3, fill: false},
      {data: toXY(p.base), borderColor: '#f20000', borderWidth: 2.2, borderDash: [10, 4, 2.5, 4],
       pointRadius: 0, fill: false, tension: 0.4, cubicInterpolationMode: 'monotone'},
      {data: toXY(p.gray), borderColor: '#000', borderWidth: 1.4, pointRadius: 1.4,
       pointBackgroundColor: '#000', pointBorderWidth: 0, fill: 'origin', backgroundColor: '#c2c2c2',
       tension: 0.4, cubicInterpolationMode: 'monotone'}
    ]},
    options: {
      responsive: false, animation: false, devicePixelRatio: 1, events: [],
      layout: {padding: {left: PAD_L, right: PAD_R, top: PAD_T, bottom: 0}},
      plugins: {
        legend: {display: false}, tooltip: {enabled: false},
        frame: {xMinor: 0.1, xMajor: p.wide ? 1 : 0.5, yMinor: 0.25, yMajor: 1}
      },
      scales: {
        x: {
          type: 'linear', min: range[0], max: range[1], position: 'bottom',
          grid: {display: false, drawTicks: false}, border: {display: false},
          afterBuildTicks: s => { s.ticks = tickVals.map(v => ({value: v})); },
          afterFit: s => { s.height = AXIS_H; },
          ticks: {padding: 12, color: '#000', autoSkip: false, maxRotation: 0,
                  font: {family: FONT, size: 18, weight: 'bold'},
                  callback: (v, k) => tickLabels[k]},
          title: {display: true, text: TITLES[i], color: '#000',
                  font: {family: FONT, size: 23, weight: 'bold'}, padding: {top: 0, bottom: 10}}
        },
        y: {type: 'linear', display: false, min: Y_RANGE[0], max: Y_RANGE[1]}
      }
    },
    plugins: [framePlugin]
  });
});
</script>
</body></html>
